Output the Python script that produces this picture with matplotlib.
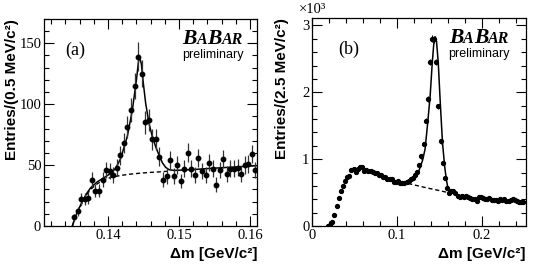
import numpy as np
import matplotlib
matplotlib.use('Agg')
import matplotlib.pyplot as plt
from matplotlib.ticker import MultipleLocator, FuncFormatter
from matplotlib.offsetbox import TextArea, HPacker, VPacker, AnchoredOffsetbox

# ---- panel (a): 0.5 MeV bins ----
a_x0, a_step = 0.13525, 0.0005
a_counts = [7, 12, 22, 22, 23, 38, 29, 29, 38, 46, 45, 42, 48, 58, 68, 81, 95, 115, 139, 125,
            85, 87, 71, 71, 57, 38, 41, 54, 41, 50, 37, 47, 60, 47, 42, 56, 45, 42, 52, 47,
            34, 46, 55, 43, 47, 47, 48, 43, 50, 51, 59, 46]

# fit curves
a_fit_x = [0.13499, 0.13530, 0.13570, 0.13620, 0.13663, 0.13710, 0.13757, 0.13851, 0.13945,
           0.14039, 0.14109, 0.14180, 0.14274, 0.14344, 0.14401, 0.14440, 0.14471, 0.14499,
           0.14532, 0.14579, 0.14626, 0.14673, 0.14720, 0.14767, 0.14814, 0.14861, 0.14931,
           0.15213, 0.15448, 0.15682, 0.15917, 0.16100]
a_fit_y = [0, 5.5, 11.7, 17.8, 22.7, 27.5, 31.4, 36.3, 39.6,
           43.2, 47.3, 55.5, 73.8, 95.1, 119.7, 140.0, 133.0, 117.0,
           100.5, 84.2, 73.2, 65.0, 58.2, 51.9, 48.1, 46.2, 45.6,
           46.4, 47.3, 48.1, 48.9, 49.5]
a_bkg_x = [0.13499, 0.13530, 0.13570, 0.13620, 0.13663, 0.13710, 0.13757, 0.13851, 0.13945,
           0.14039, 0.14180, 0.14321, 0.14462, 0.14602, 0.14743, 0.14884]
a_bkg_y = [0, 5.2, 10.9, 17.0, 21.9, 26.5, 30.1, 34.7, 37.7,
           39.9, 41.5, 42.6, 43.4, 44.0, 44.5, 45.1]

# ---- panel (b): 2.5 MeV bins ----
b_x0, b_step = 0.01875, 0.0025
b_counts = [0, 10, 60, 165, 305, 425, 520, 600, 680, 740,
            750, 840, 855, 815, 850, 885, 875, 830, 840, 825,
            830, 815, 800, 800, 765, 760, 730, 730, 710, 700,
            700, 665, 665, 680, 650, 650, 650, 660, 680, 700,
            715, 765, 815, 915, 1040, 1225, 1575, 1900, 2455, 2800,
            2790, 2455, 1790, 1265, 940, 715, 565, 490, 525, 530,
            500, 445, 430, 450, 440, 450, 430, 420, 410, 400,
            375, 430, 440, 415, 410, 405, 420, 395, 385, 390,
            375, 400, 390, 400, 380, 370, 390, 410, 385, 370,
            365, 360, 355]

b_fit_x = [0.1050, 0.1100, 0.1150, 0.1200, 0.1250, 0.1300, 0.1330, 0.1360, 0.1390, 0.1415,
           0.1435, 0.1450, 0.1465, 0.1485, 0.1510, 0.1535, 0.1560, 0.1580, 0.1600, 0.1620,
           0.1640]
b_fit_y = [650, 640, 660, 710, 800, 980, 1150, 1530, 1950, 2450,
           2760, 2830, 2760, 2450, 1820, 1250, 900, 700, 560, 495,
           485]
b_bkg_x = [0.105, 0.115, 0.125, 0.135, 0.145, 0.155, 0.163]
b_bkg_y = [655, 630, 600, 570, 543, 515, 490]

a_x = a_x0 + a_step * np.arange(len(a_counts))
b_x = b_x0 + b_step * np.arange(len(b_counts))
a_y = np.array(a_counts, dtype=float)
b_y = np.array(b_counts, dtype=float)

serif = 'Liberation Serif'
sans = 'Liberation Sans'

fig = plt.figure(figsize=(5.4, 2.7), dpi=100)
ax_a = fig.add_axes([0.0815, 0.163, 0.3945, 0.767])
ax_b = fig.add_axes([0.578, 0.163, 0.396, 0.770])


def babar(ax, xy):
    big = dict(family=serif, weight='bold', style='italic', size=15.5)
    small = dict(family=serif, weight='bold', style='italic', size=11.5)
    logo = HPacker(children=[TextArea("B", textprops=big), TextArea("A", textprops=small),
                             TextArea("B", textprops=big), TextArea("AR", textprops=small)],
                   align="baseline", pad=0, sep=0)
    prelim = TextArea("preliminary", textprops=dict(family=sans, size=9))
    box = VPacker(children=[logo, prelim], align="center", pad=0, sep=0)
    anch = AnchoredOffsetbox(loc='upper right', child=box, pad=0, borderpad=0, frameon=False,
                             bbox_to_anchor=xy, bbox_transform=ax.transAxes)
    ax.add_artist(anch)


def style(ax):
    ax.tick_params(which='both', direction='in', top=True, right=True, width=0.8,
                   labelsize=10.5, pad=2)
    ax.tick_params(which='major', length=7)
    ax.tick_params(which='minor', length=3.5)
    for lab in ax.get_xticklabels() + ax.get_yticklabels():
        lab.set_family(serif)
    for s in ax.spines.values():
        s.set_linewidth(0.9)


# panel (a)
ax_a.plot(a_bkg_x, a_bkg_y, color='black', lw=1.0, dashes=(3, 2))
ax_a.plot(a_fit_x, a_fit_y, color='black', lw=1.1)
ax_a.errorbar(a_x, a_y, yerr=np.sqrt(a_y), fmt='o', ms=3.2, color='black',
              ecolor='#333333', elinewidth=0.9, capsize=0)
ax_a.set_xlim(0.131, 0.161)
ax_a.set_ylim(0, 170)
ax_a.xaxis.set_major_locator(MultipleLocator(0.01))
ax_a.xaxis.set_minor_locator(MultipleLocator(0.002))
ax_a.yaxis.set_major_locator(MultipleLocator(50))
ax_a.yaxis.set_minor_locator(MultipleLocator(10))
ax_a.xaxis.set_major_formatter(FuncFormatter(lambda v, p: f"{v:.2f}"))
style(ax_a)
ax_a.set_ylabel("Entries/(0.5 MeV/c²)", family=sans, weight='bold', size=11, loc='top')
ax_a.yaxis.set_label_coords(-0.118, 1.0)
ax_a.set_xlabel("Δm [GeV/c²]", family=sans, weight='bold', size=11, loc='right')
ax_a.text(0.10, 0.85, "(a)", transform=ax_a.transAxes, family=serif, size=13, va='center')
babar(ax_a, (0.935, 0.95))

# panel (b)
ax_b.plot(b_bkg_x, b_bkg_y, color='black', lw=1.0, dashes=(3, 2))
ax_b.plot(b_fit_x, b_fit_y, color='black', lw=1.1)
ax_b.errorbar(b_x, b_y, yerr=np.sqrt(b_y), fmt='o', ms=2.8, color='black',
              ecolor='black', elinewidth=0.8, capsize=0)
ax_b.set_xlim(0, 0.2518)
ax_b.set_ylim(0, 3110)
ax_b.xaxis.set_major_locator(MultipleLocator(0.1))
ax_b.xaxis.set_minor_locator(MultipleLocator(0.02))
ax_b.yaxis.set_major_locator(MultipleLocator(1000))
ax_b.yaxis.set_minor_locator(MultipleLocator(200))
ax_b.xaxis.set_major_formatter(FuncFormatter(lambda v, p: f"{v:g}"))
ax_b.yaxis.set_major_formatter(FuncFormatter(lambda v, p: f"{v / 1000:g}"))
style(ax_b)
ax_b.set_ylabel("Entries/(2.5 MeV/c²)", family=sans, weight='bold', size=11, loc='top')
ax_b.yaxis.set_label_coords(-0.11, 1.0)
ax_b.set_xlabel("Δm [GeV/c²]", family=sans, weight='bold', size=11, loc='right')
ax_b.text(0.12, 0.85, "(b)", transform=ax_b.transAxes, family=serif, size=13, va='center')
ax_b.text(-0.06, 1.01, "×10³", transform=ax_b.transAxes, family=serif, size=10.5, va='bottom')
babar(ax_b, (0.925, 0.95))

fig.savefig("out.png", dpi=100)
